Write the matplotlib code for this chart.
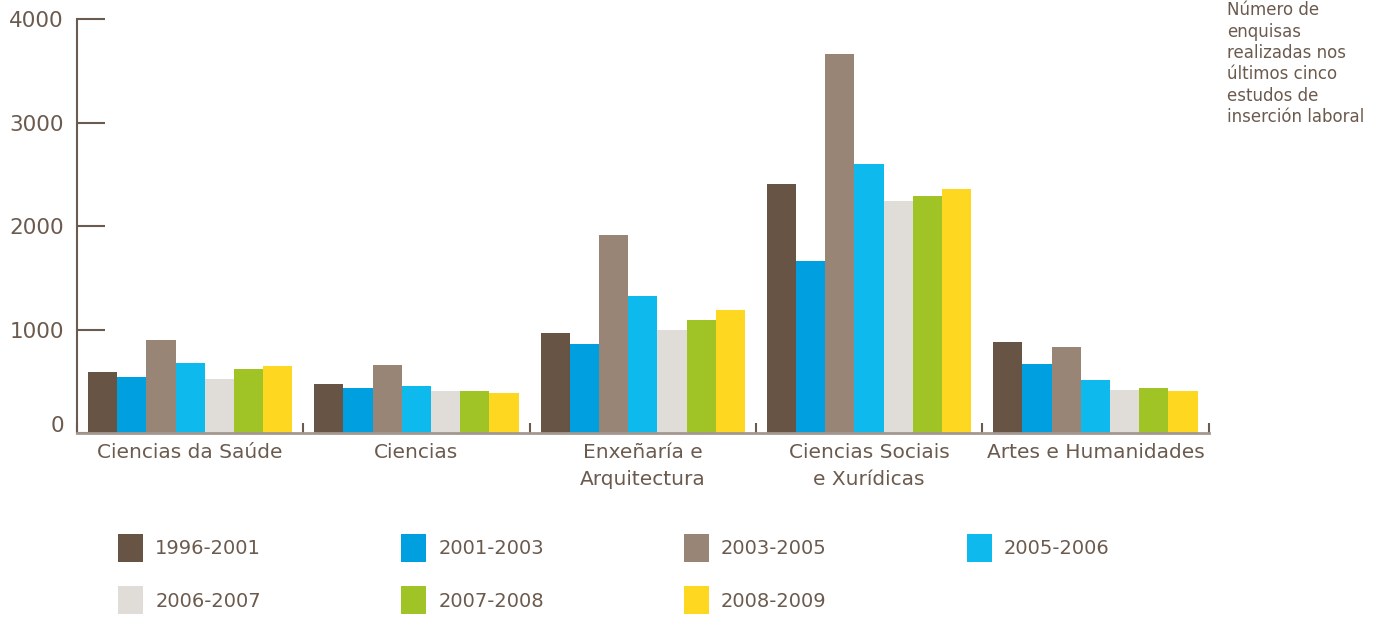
import matplotlib.pyplot as plt
import matplotlib.transforms as mtransforms
import numpy as np

categorias = ["Ciencias da Saúde", "Ciencias", "Enxeñaría e\nArquitectura",
              "Ciencias Sociais\ne Xurídicas", "Artes e Humanidades"]
periodos = ["1996-2001", "2001-2003", "2003-2005", "2005-2006",
            "2006-2007", "2007-2008", "2008-2009"]

# enquisas por período (orde: categorias)
v1996 = [589, 473, 966, 2406, 879]
v2001 = [541, 435, 860, 1662, 667]
v2003 = [899, 657, 1913, 3662, 831]
v2005 = [676, 454, 1324, 2599, 512]
v2006 = [522, 406, 995, 2242, 415]
v2007 = [618, 406, 1092, 2290, 435]
v2008 = [647, 386, 1188, 2357, 406]
series = [v1996, v2001, v2003, v2005, v2006, v2007, v2008]

cores = ["#675444", "#009fe0", "#998576", "#0db9ed",
         "#e0ddd9", "#a0c426", "#fdd720"]
texto = "#6b5a4e"

fig = plt.figure(figsize=(13.79, 6.17), dpi=100)
ax = fig.add_axes([0.0558, 0.2982, 0.8206, 0.671])

x = np.arange(len(categorias))
w = 0.129
barras = []
for j, (vals, cor) in enumerate(zip(series, cores)):
    b = ax.bar(x + (j - 3) * w, vals, w, color=cor, label=periodos[j], linewidth=0)
    barras.append(b)

ax.set_xlim(-0.5, 4.5)
ax.set_ylim(0, 4000)
ax.set_yticks([0, 1000, 2000, 3000, 4000])
ax.spines["top"].set_visible(False)
ax.spines["right"].set_visible(False)
ax.spines["left"].set_color(texto)
ax.spines["left"].set_linewidth(1.5)
ax.spines["bottom"].set_color("#a39890")
ax.spines["bottom"].set_linewidth(2)

ax.tick_params(axis="y", direction="in", length=20, width=1.5, color=texto,
               labelsize=15.5, labelcolor=texto, pad=9.5)
ax.set_xticks(x)
ax.set_xticklabels(categorias, linespacing=1.52)
ax.tick_params(axis="x", which="major", length=0, labelsize=14.5,
               labelcolor=texto, pad=7)
ax.set_xticks(np.arange(-0.5, 5, 1), minor=True)
ax.tick_params(axis="x", which="minor", direction="in", length=7, width=1.5,
               color=texto)

# o "0" vai un pouco por riba do eixo
lab0 = ax.get_yticklabels()[0]
lab0.set_transform(lab0.get_transform() +
                   mtransforms.ScaledTranslation(0, 9 / 100, fig.dpi_scale_trans))

fig.text(0.8898, 0.998, "Número de\nenquisas\nrealizadas nos\núltimos cinco\n"
         "estudos de\ninserción laboral", ha="left", va="top", fontsize=12,
         color=texto, linespacing=1.24)

orde = [0, 4, 1, 5, 2, 6, 3]
leg = fig.legend([barras[i] for i in orde], [periodos[i] for i in orde],
                 loc="upper left", bbox_to_anchor=(0.0856, 0.1345), ncol=4,
                 frameon=False, fontsize=14, handlelength=1.29,
                 handleheight=1.84, handletextpad=0.62, columnspacing=7.2,
                 labelspacing=1.25, borderpad=0, borderaxespad=0)
for t in leg.get_texts():
    t.set_color(texto)

fig.savefig("out.png", dpi=100)
